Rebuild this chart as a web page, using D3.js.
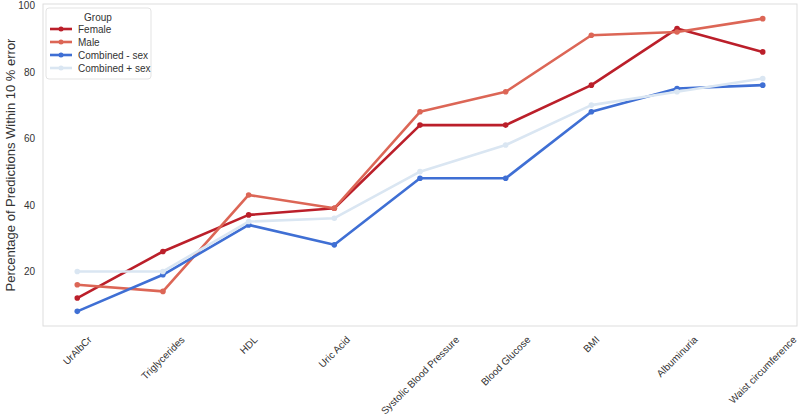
<!DOCTYPE html>
<html>
<head>
<meta charset="utf-8">
<script src="https://cdn.jsdelivr.net/npm/d3@7"></script>
<style>
  body { margin: 0; background: #fff; }
  svg { font-family: "Liberation Sans", Arial, sans-serif; }
  .tick text { fill: #333; font-size: 10px; }
</style>
</head>
<body>
<svg id="chart"></svg>
<script>
// categories along the x axis
const features = ["UrAlbCr", "Triglycerides", "HDL", "Uric Acid", "Systolic Blood Pressure",
  "Blood Glucose", "BMI", "Albuminuria", "Waist circumference"];

const groups = ["Female", "Male", "Combined - sex", "Combined + sex"];
const colors = ["#bb1f2a", "#dc6656", "#3f6fd4", "#dae6f2"];

const female = [12, 26, 37, 39, 64, 64, 76, 93, 86];
const male = [16, 14, 43, 39, 68, 74, 91, 92, 96];
const combinedMinus = [8, 19, 34, 28, 48, 48, 68, 75, 76];
const combinedPlus = [20, 20, 35, 36, 50, 58, 70, 74, 78];

const yTicks = [20, 40, 60, 80, 100];

const series = [female, male, combinedMinus, combinedPlus];

const width = 800, height = 415;
const margin = { top: 4, right: 3, bottom: 89, left: 43 };

const svg = d3.select("#chart").attr("width", width).attr("height", height);

const x = d3.scalePoint()
  .domain(features)
  .range([margin.left, width - margin.right])
  .padding(0.4);

const y = d3.scaleLinear()
  .domain([3.6, 100.4])
  .range([height - margin.bottom, margin.top]);

// frame
svg.append("rect")
  .attr("x", margin.left)
  .attr("y", margin.top)
  .attr("width", width - margin.left - margin.right)
  .attr("height", height - margin.top - margin.bottom)
  .attr("fill", "none")
  .attr("stroke", "#dddddd")
  .attr("stroke-width", 1);

// y axis
const yAxis = svg.append("g")
  .attr("transform", "translate(" + margin.left + ",0)")
  .call(d3.axisLeft(y).tickValues(yTicks).tickSize(0).tickPadding(8));
yAxis.select(".domain").remove();

svg.append("text")
  .attr("transform", "translate(10," + (margin.top + (height - margin.top - margin.bottom) / 2) + ") rotate(-90)")
  .attr("text-anchor", "middle")
  .attr("dominant-baseline", "central")
  .attr("font-size", "13px")
  .attr("fill", "#333")
  .text("Percentage of Predictions Within 10 % error");

// x labels, rotated 45 deg and centred on the tick like matplotlib
const xLab = svg.append("g").attr("class", "tick");
features.forEach(f => {
  const t = xLab.append("text")
    .attr("text-anchor", "middle")
    .attr("dominant-baseline", "central")
    .attr("font-size", "10px")
    .attr("fill", "#333")
    .text(f);
  const L = t.node().getComputedTextLength();
  const H = (L + 11) * Math.SQRT1_2;
  const top = height - margin.bottom + 8;
  t.attr("transform", "translate(" + x(f) + "," + (top + H / 2) + ") rotate(-45)");
});

// lines
const line = d3.line()
  .x((d, i) => x(features[i]))
  .y(d => y(d));

series.forEach((s, k) => {
  const g = svg.append("g");
  g.append("path")
    .datum(s)
    .attr("fill", "none")
    .attr("stroke", colors[k])
    .attr("stroke-width", 2.6)
    .attr("stroke-linejoin", "round")
    .attr("d", line);
  g.selectAll("circle")
    .data(s)
    .enter().append("circle")
    .attr("cx", (d, i) => x(features[i]))
    .attr("cy", d => y(d))
    .attr("r", 2.8)
    .attr("fill", colors[k]);
});

// legend
const lg = svg.append("g").attr("transform", "translate(46,8)");
lg.append("rect")
  .attr("width", 105)
  .attr("height", 71)
  .attr("rx", 3)
  .attr("fill", "#fff")
  .attr("fill-opacity", 0.8)
  .attr("stroke", "#e3e3e3");
lg.append("text")
  .attr("x", 52)
  .attr("y", 9)
  .attr("text-anchor", "middle")
  .attr("dominant-baseline", "central")
  .attr("font-size", "10px")
  .attr("fill", "#333")
  .text("Group");
groups.forEach((gname, i) => {
  const yy = 21 + i * 13;
  lg.append("line")
    .attr("x1", 4).attr("x2", 26)
    .attr("y1", yy).attr("y2", yy)
    .attr("stroke", colors[i])
    .attr("stroke-width", 2.6);
  lg.append("circle")
    .attr("cx", 15).attr("cy", yy).attr("r", 2.5)
    .attr("fill", colors[i]);
  lg.append("text")
    .attr("x", 32)
    .attr("y", yy)
    .attr("dominant-baseline", "central")
    .attr("font-size", "10px")
    .attr("fill", "#333")
    .text(gname);
});
</script>
</body>
</html>
